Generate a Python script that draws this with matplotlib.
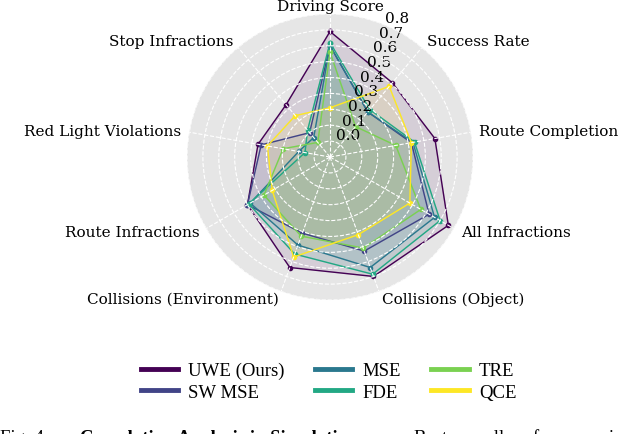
import numpy as np
import matplotlib
matplotlib.use("Agg")
import matplotlib.pyplot as plt

# metrics, clockwise from the top
categories = ["Driving Score", "Success Rate", "Route Completion", "All Infractions",
              "Collisions (Object)", "Collisions (Environment)", "Route Infractions",
              "Red Light Violations", "Stop Infractions"]

# correlation values
uwe = [0.69, 0.51, 0.57, 0.76, 0.70, 0.64, 0.50, 0.36, 0.33]
sw_mse = [0.60, 0.27, 0.42, 0.62, 0.53, 0.41, 0.50, 0.34, 0.10]
mse = [0.60, 0.27, 0.43, 0.66, 0.64, 0.49, 0.48, 0.10, 0.06]
fde = [0.62, 0.29, 0.44, 0.70, 0.685, 0.55, 0.49, 0.06, 0.12]
tre = [0.56, 0.15, 0.32, 0.56, 0.51, 0.43, 0.38, 0.20, 0.02]
qce = [0.21, 0.48, 0.42, 0.48, 0.42, 0.57, 0.32, 0.30, 0.24]

series_names = ["UWE (Ours)", "SW MSE", "MSE", "FDE", "TRE", "QCE"]
series_values = [uwe, sw_mse, mse, fde, tre, qce]
colors = ["#440154", "#414487", "#2a788e", "#22a884", "#7ad151", "#fde725"]

r_ticks = [0.0, 0.1, 0.2, 0.3, 0.4, 0.5, 0.6, 0.7, 0.8]

plt.rcParams['font.family'] = ['DejaVu Serif']

fig = plt.figure(figsize=(6.4, 4.35), dpi=100)
ax = fig.add_axes([0.2922, 0.3080, 0.4469, 0.6575], projection='polar')
ax.set_theta_offset(np.pi / 2)
ax.set_theta_direction(-1)
ax.set_facecolor('#e6e6e6')
ax.spines['polar'].set_visible(False)

n = len(categories)
angles = np.linspace(0, 2 * np.pi, n, endpoint=False)
closed = np.append(angles, angles[0])

handles = []
for name, vals, c in zip(series_names, series_values, colors):
    v = np.append(vals, vals[0])
    ln, = ax.plot(closed, v, color=c, linewidth=1.0, marker='o', markersize=3, label=name)
    ax.fill(closed, v, color=c, alpha=0.1)
    handles.append(ln)

ax.set_ylim(-0.1, 0.8)
ax.set_yticks(r_ticks)
ax.set_yticklabels([f"{t:.1f}" for t in r_ticks], fontsize=11)
ax.set_rlabel_position(22.5)
ax.set_xticks(angles)
ax.set_xticklabels([])
ax.set_axisbelow(False)
ax.grid(color='white', linestyle='--', linewidth=0.8)

# category labels around the outside
for ang, lab in zip(angles, categories):
    deg = np.degrees(ang)
    if deg < 1:
        ha = 'center'
    elif deg < 180:
        ha = 'left'
    else:
        ha = 'right'
    ax.text(ang, 0.85, lab, ha=ha, va='center', fontsize=11, clip_on=False)

leg_handles = [plt.Line2D([], [], color=c, linewidth=3.5) for c in colors]
fig.legend(leg_handles, series_names, loc='center', bbox_to_anchor=(328.5 / 640, 0.1207),
           ncol=3, frameon=False, handlelength=2.0, handletextpad=0.55,
           columnspacing=1.6, labelspacing=0.25,
           prop={'family': 'Liberation Serif', 'size': 13.5})

# caption, cut off by the bottom edge
fig.text(0.0, -0.018, "Fig. 4:", fontsize=13.5, family='Liberation Serif', va='baseline')
fig.text(80 / 640, -0.018, "Correlation Analysis in Simulation.", fontsize=13.5,
         family='Liberation Serif', weight='bold', va='baseline')
fig.text(414 / 640, -0.018, "Best overall performance is", fontsize=13.5,
         family='Liberation Serif', va='baseline')

fig.savefig("out.png", dpi=100)
